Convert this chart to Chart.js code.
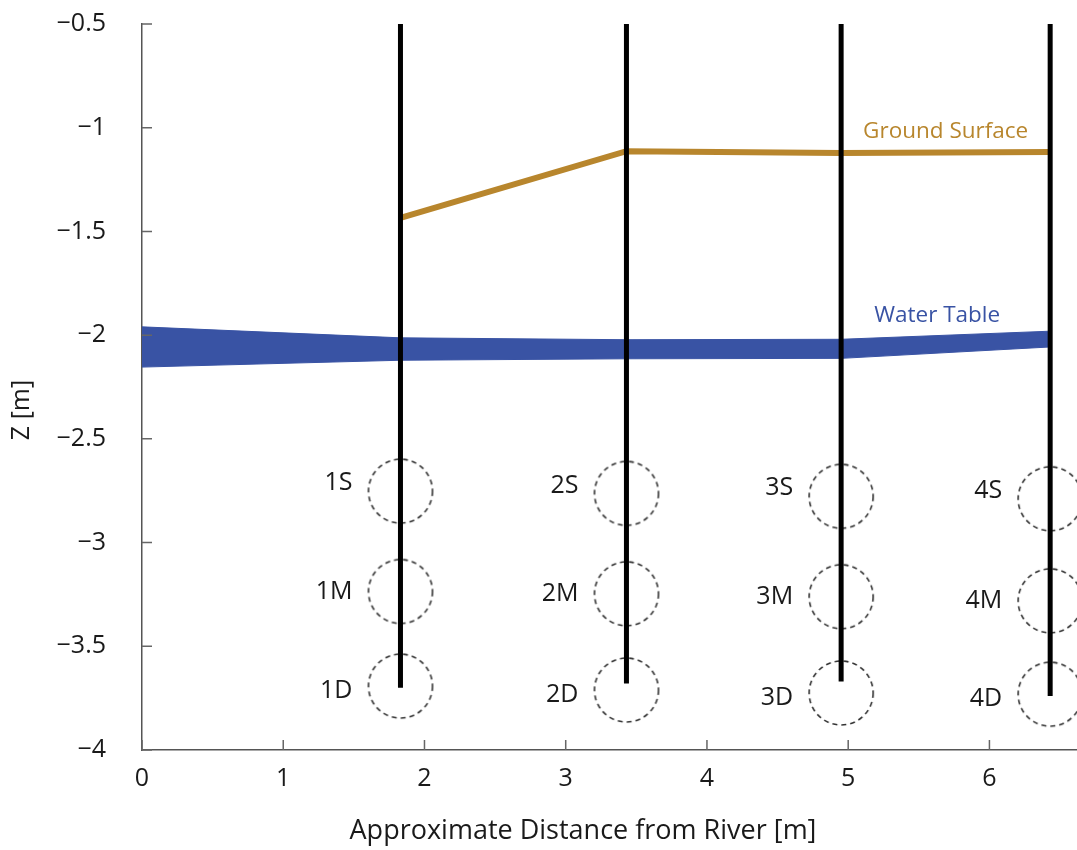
<!DOCTYPE html>
<html>
<head>
<meta charset="utf-8">
<script src="https://cdn.jsdelivr.net/npm/chart.js@4.4.0/dist/chart.umd.min.js"></script>
<style>
  html, body { margin: 0; padding: 0; background: #fff; }
  #wrap { position: relative; width: 1077px; height: 850px; }
</style>
</head>
<body>
<div id="wrap"><canvas id="myChart"></canvas></div>
<script>
// wells along the transect (distance from river, m)
const wellNames = ["1", "2", "3", "4"];
const wellX = [1.83, 3.43, 4.95, 6.43];
const wellTop = -0.5;
const wellBottom = [-3.70, -3.68, -3.67, -3.74];

// sensor depths in each well: shallow, middle, deep
const sensorDepths = ["S", "M", "D"];
const sensorZ = [
    [-2.752, -3.236, -3.692],
    [-2.763, -3.247, -3.711],
    [-2.777, -3.261, -3.725],
    [-2.789, -3.281, -3.731],
];

const groundZ = [-1.435, -1.113, -1.122, -1.117];

const waterX = [0, 1.83, 3.43, 4.95, 6.43];
const waterTopZ = [-1.960, -2.013, -2.022, -2.020, -1.981];
const waterBottomZ = [-2.154, -2.121, -2.114, -2.112, -2.057];

const FONT = "'Open Sans', sans-serif";
const INK = "#1a1a1a";
const GOLD = "#b8862d";
const BLUE = "#3953a4";

// dashed ring used as the point style for the sensors
const ring = document.createElement("canvas");
ring.width = 70;
ring.height = 70;
(function () {
    const c = ring.getContext("2d");
    c.strokeStyle = "#333";
    c.lineWidth = 1.6;
    c.setLineDash([5, 4]);
    c.beginPath();
    c.arc(35, 35, 32, 0, Math.PI * 2);
    c.stroke();
})();

const wellSets = wellX.map((x, i) => ({
    label: "Well " + wellNames[i],
    data: [{ x: x, y: wellTop }, { x: x, y: wellBottom[i] }],
    borderColor: "#000",
    borderWidth: 5,
    pointRadius: 0,
    fill: false,
}));

const sensorPts = [];
wellX.forEach((x, i) => {
    sensorDepths.forEach((d, j) => {
        sensorPts.push({ x: x, y: sensorZ[i][j], name: wellNames[i] + d });
    });
});

const toMinus = (v) => String(v).replace("-", "\u2212");

const sensorLabels = {
    id: "sensorLabels",
    afterDatasetsDraw(chart) {
        const { ctx, scales } = chart;
        const rowShift = { S: -8, M: 0, D: 5 };
        ctx.save();
        ctx.font = "25px " + FONT;
        ctx.fillStyle = INK;
        ctx.textAlign = "right";
        ctx.textBaseline = "middle";
        sensorPts.forEach((p) => {
            const px = scales.x.getPixelForValue(p.x);
            const py = scales.y.getPixelForValue(p.y);
            ctx.fillText(p.name, px - 48, py + rowShift[p.name[1]]);
        });
        ctx.font = "22.5px " + FONT;
        ctx.textAlign = "center";
        ctx.fillStyle = GOLD;
        ctx.fillText("Ground Surface", scales.x.getPixelForValue(5.69), scales.y.getPixelForValue(-1.02));
        ctx.fillStyle = BLUE;
        ctx.fillText("Water Table", scales.x.getPixelForValue(5.63), scales.y.getPixelForValue(-1.907));
        ctx.restore();
    },
};

// short tick marks pointing into the plot, plus axis titles
const axisDecor = {
    id: "axisDecor",
    afterDraw(chart) {
        const { ctx, scales, chartArea } = chart;
        ctx.save();
        ctx.strokeStyle = "#666";
        ctx.lineWidth = 1.5;
        ctx.beginPath();
        scales.x.ticks.forEach((t) => {
            const px = scales.x.getPixelForValue(t.value);
            ctx.moveTo(px, chartArea.bottom);
            ctx.lineTo(px, chartArea.bottom - 10);
        });
        scales.y.ticks.forEach((t) => {
            const py = scales.y.getPixelForValue(t.value);
            ctx.moveTo(chartArea.left, py);
            ctx.lineTo(chartArea.left + 10, py);
        });
        ctx.stroke();

        ctx.fillStyle = INK;
        ctx.font = "27px " + FONT;
        ctx.textAlign = "center";
        ctx.textBaseline = "middle";
        ctx.fillText("Approximate Distance from River [m]", chartArea.left + 441, 831);
        ctx.font = "25px " + FONT;
        ctx.translate(22, 410);
        ctx.rotate(-Math.PI / 2);
        ctx.fillText("Z [m]", 0, 0);
        ctx.restore();
    },
};

new Chart(document.getElementById("myChart"), {
    type: "line",
    data: {
        datasets: [
            ...wellSets,
            {
                label: "Sensors",
                data: sensorPts,
                showLine: false,
                pointStyle: ring,
                pointRadius: 32,
            },
            {
                label: "Ground Surface",
                data: wellX.map((x, i) => ({ x: x, y: groundZ[i] })),
                borderColor: GOLD,
                borderWidth: 6,
                pointRadius: 0,
                fill: false,
            },
            {
                label: "Water Table top",
                data: waterX.map((x, i) => ({ x: x, y: waterTopZ[i] })),
                borderColor: BLUE,
                borderWidth: 1,
                pointRadius: 0,
                fill: false,
            },
            {
                label: "Water Table bottom",
                data: waterX.map((x, i) => ({ x: x, y: waterBottomZ[i] })),
                borderColor: BLUE,
                borderWidth: 1,
                backgroundColor: BLUE,
                pointRadius: 0,
                fill: "-1",
            },
        ],
    },
    options: {
        responsive: true,
        maintainAspectRatio: false,
        animation: false,
        layout: { autoPadding: false, padding: { top: 24, right: 0, left: 0, bottom: 0 } },
        plugins: {
            legend: { display: false },
            tooltip: { enabled: false },
        },
        elements: { line: { tension: 0 } },
        scales: {
            x: {
                type: "linear",
                min: 0,
                max: 6.62,
                grid: { display: false },
                border: { display: true, color: "#555", width: 1.5 },
                ticks: {
                    stepSize: 1,
                    includeBounds: false,
                    padding: 6,
                    color: INK,
                    font: { family: FONT, size: 25 },
                    maxRotation: 0,
                },
                afterFit(scale) {
                    scale.height = 100;
                    scale.paddingLeft = 0;
                    scale.paddingRight = 0;
                },
            },
            y: {
                min: -4,
                max: -0.5,
                grid: { display: false },
                border: { display: true, color: "#555", width: 1.5 },
                ticks: {
                    stepSize: 0.5,
                    padding: 28,
                    color: INK,
                    font: { family: FONT, size: 25 },
                    callback: (v) => toMinus(v),
                },
                afterFit(scale) {
                    scale.width = 142;
                    scale.paddingTop = 0;
                    scale.paddingBottom = 0;
                },
            },
        },
    },
    plugins: [sensorLabels, axisDecor],
});
</script>
</body>
</html>
